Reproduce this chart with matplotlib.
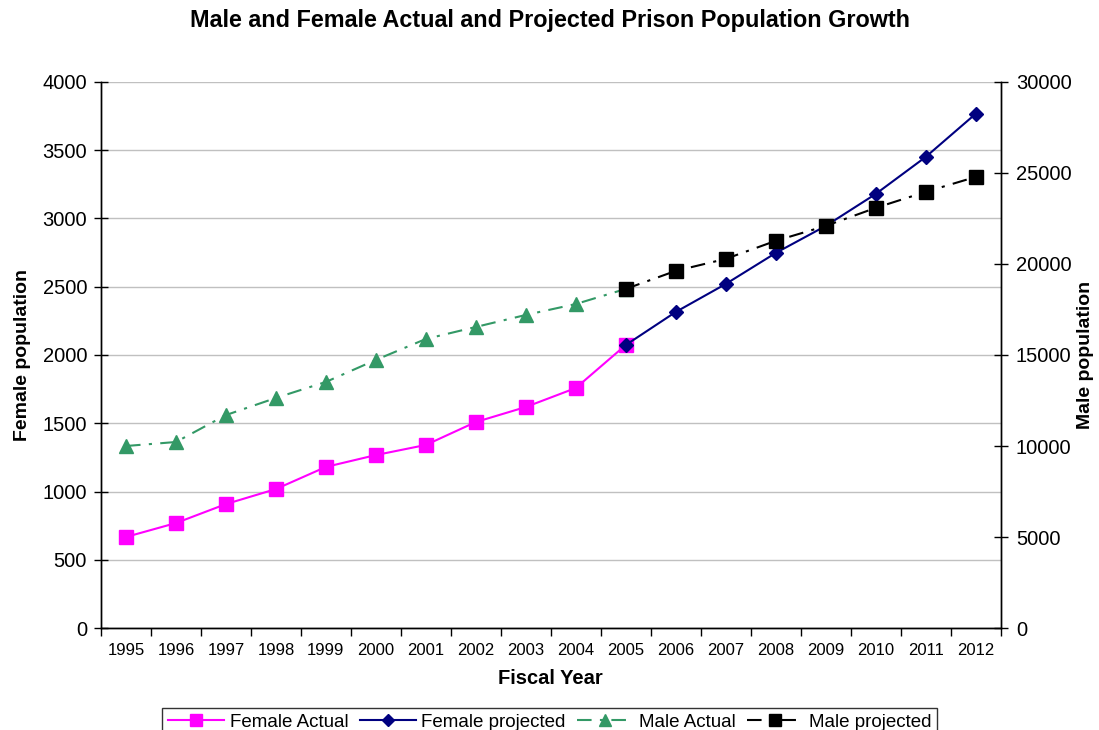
import matplotlib
matplotlib.use("Agg")
import matplotlib.pyplot as plt

plt.rcParams['font.family'] = ['Liberation Sans', 'DejaVu Sans']

years = [str(y) for y in range(1995, 2013)]

female_actual_years = years[0:11]
female_actual = [667, 769, 908, 1018, 1180, 1267, 1341, 1509, 1619, 1758, 2073]

female_proj_years = years[10:]
female_proj = [2073, 2315, 2520, 2747, 2945, 3179, 3450, 3766]

male_actual_years = years[0:11]
male_actual = [10000, 10220, 11700, 12640, 13520, 14730, 15880, 16540, 17200, 17800, 18630]

male_proj_years = years[10:]
male_proj = [18630, 19620, 20280, 21270, 22090, 23080, 23960, 24780]

fig = plt.figure(figsize=(10.99, 7.30), dpi=100)
ax = fig.add_axes([0.0919, 0.1397, 0.8185, 0.748])
ax2 = ax.twinx()

idx = {y: i for i, y in enumerate(years)}
xf_a = [idx[y] for y in female_actual_years]
xf_p = [idx[y] for y in female_proj_years]
xm_a = [idx[y] for y in male_actual_years]
xm_p = [idx[y] for y in male_proj_years]

dashdot = (0, (7, 4, 1.5, 4))

l1, = ax.plot(xf_a, female_actual, color='#FF00FF', lw=1.5, marker='s', ms=10,
              mec='#FF00FF', mfc='#FF00FF', zorder=3)
l2, = ax.plot(xf_p, female_proj, color='#000080', lw=1.5, marker='D', ms=7.5,
              mec='#000080', mfc='#000080', zorder=4)
l3, = ax2.plot(xm_a, male_actual, color='#339966', lw=1.5, ls=dashdot, marker='^', ms=10,
               mec='#339966', mfc='#339966', zorder=3)
l4, = ax2.plot(xm_p, male_proj, color='black', lw=1.5, ls=dashdot, marker='s', ms=10,
               mec='black', mfc='black', zorder=4)

ax.set_xlim(-0.5, len(years) - 0.5)
ax.set_ylim(0, 4000)
ax2.set_ylim(0, 30000)
ax.set_yticks(range(0, 4001, 500))
ax2.set_yticks(range(0, 30001, 5000))

ax.yaxis.grid(True, color='#C0C0C0', lw=1)
ax.set_axisbelow(True)

ax.set_xticks(range(len(years)))
ax.set_xticklabels(years, fontsize=12)
ax.set_xticks([i - 0.5 for i in range(len(years) + 1)], minor=True)
ax.tick_params(axis='x', which='major', length=0, pad=11)
ax.tick_params(axis='x', which='minor', length=6, direction='out', width=1)
ax.tick_params(axis='y', which='major', length=10, direction='inout', labelsize=14.5,
               width=1, pad=5)
ax2.tick_params(axis='y', which='major', length=10, direction='inout', labelsize=14.5,
                width=1, pad=6)

for a in (ax, ax2):
    a.spines['top'].set_visible(False)
    for s in ('left', 'right', 'bottom'):
        a.spines[s].set_color('black')
        a.spines[s].set_linewidth(1)

ax.set_xlabel('Fiscal Year', fontsize=14.5, fontweight='bold', labelpad=8)
ax.set_ylabel('Female population', fontsize=14, fontweight='bold', labelpad=8)
ax2.set_ylabel('Male population', fontsize=14, fontweight='bold', labelpad=4)

fig.suptitle('Male and Female Actual and Projected Prison Population Growth',
             fontsize=16.8, fontweight='bold', y=0.988)

handles = [l1, l2, l3, l4]
labels = ['Female Actual', 'Female projected', 'Male Actual', 'Male projected']
leg = fig.legend(handles, labels, loc='lower center', bbox_to_anchor=(0.5, -0.022),
                 ncol=4, fontsize=13.5, frameon=True, fancybox=False, edgecolor='black',
                 handlelength=3, handletextpad=0.3, columnspacing=0.6,
                 borderpad=0.3, markerscale=0.8)
leg.get_frame().set_linewidth(1)

fig.savefig('out.png', dpi=100)
